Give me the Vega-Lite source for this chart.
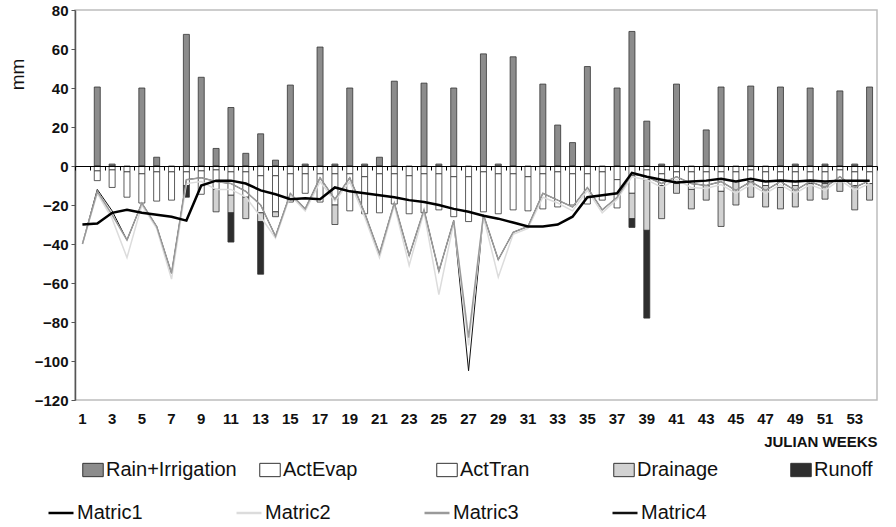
{
  "$schema": "https://vega.github.io/schema/vega-lite/v6.json",
  "width": 802,
  "height": 390,
  "autosize": {"type": "none"},
  "padding": {"left": 75, "top": 10, "right": 19, "bottom": 127},
  "background": "white",
  "config": {"view": {"stroke": "#bdbdbd", "strokeWidth": 1.5}, "font": "Liberation Sans"},
  "datasets": {
    "bars": [
      {"w":2,"s":"Rain+Irrigation","v":40.5},{"w":2,"s":"ActEvap","v":-2.5},{"w":2,"s":"ActTran","v":-5},
      {"w":3,"s":"Rain+Irrigation","v":1},{"w":3,"s":"ActEvap","v":-2},{"w":3,"s":"ActTran","v":-9},
      {"w":4,"s":"ActEvap","v":-3},{"w":4,"s":"ActTran","v":-13},
      {"w":5,"s":"Rain+Irrigation","v":40},{"w":5,"s":"ActEvap","v":-4},{"w":5,"s":"ActTran","v":-15},
      {"w":6,"s":"Rain+Irrigation","v":4.5},{"w":6,"s":"ActEvap","v":-3},{"w":6,"s":"ActTran","v":-15},
      {"w":7,"s":"ActEvap","v":-3},{"w":7,"s":"ActTran","v":-14.5},
      {"w":8,"s":"Rain+Irrigation","v":67.5},{"w":8,"s":"ActEvap","v":-3},{"w":8,"s":"ActTran","v":-7},{"w":8,"s":"Runoff","v":-6},
      {"w":9,"s":"Rain+Irrigation","v":45.5},{"w":9,"s":"ActEvap","v":-2.5},{"w":9,"s":"ActTran","v":-12},
      {"w":10,"s":"Rain+Irrigation","v":9},{"w":10,"s":"ActEvap","v":-2},{"w":10,"s":"ActTran","v":-10},{"w":10,"s":"Drainage","v":-11.5},
      {"w":11,"s":"Rain+Irrigation","v":30},{"w":11,"s":"ActEvap","v":-3},{"w":11,"s":"ActTran","v":-12},{"w":11,"s":"Drainage","v":-9},{"w":11,"s":"Runoff","v":-15},
      {"w":12,"s":"Rain+Irrigation","v":6.5},{"w":12,"s":"ActEvap","v":-3},{"w":12,"s":"ActTran","v":-13},{"w":12,"s":"Drainage","v":-11},
      {"w":13,"s":"Rain+Irrigation","v":16.5},{"w":13,"s":"ActEvap","v":-5},{"w":13,"s":"ActTran","v":-19},{"w":13,"s":"Drainage","v":-4.5},{"w":13,"s":"Runoff","v":-27},
      {"w":14,"s":"Rain+Irrigation","v":3},{"w":14,"s":"ActEvap","v":-5},{"w":14,"s":"ActTran","v":-18.5},{"w":14,"s":"Drainage","v":-2.5},
      {"w":15,"s":"Rain+Irrigation","v":41.5},{"w":15,"s":"ActEvap","v":-4},{"w":15,"s":"ActTran","v":-14.5},
      {"w":16,"s":"Rain+Irrigation","v":1},{"w":16,"s":"ActEvap","v":-4},{"w":16,"s":"ActTran","v":-10},
      {"w":17,"s":"Rain+Irrigation","v":61},{"w":17,"s":"ActEvap","v":-4},{"w":17,"s":"ActTran","v":-14.5},
      {"w":18,"s":"Rain+Irrigation","v":1},{"w":18,"s":"ActEvap","v":-4},{"w":18,"s":"ActTran","v":-16},{"w":18,"s":"Drainage","v":-10},
      {"w":19,"s":"Rain+Irrigation","v":40},{"w":19,"s":"ActEvap","v":-4},{"w":19,"s":"ActTran","v":-19},
      {"w":20,"s":"Rain+Irrigation","v":1},{"w":20,"s":"ActEvap","v":-5.5},{"w":20,"s":"ActTran","v":-19},
      {"w":21,"s":"Rain+Irrigation","v":4.5},{"w":21,"s":"ActEvap","v":-4},{"w":21,"s":"ActTran","v":-20},
      {"w":22,"s":"Rain+Irrigation","v":43.5},{"w":22,"s":"ActEvap","v":-4},{"w":22,"s":"ActTran","v":-15.5},
      {"w":23,"s":"ActEvap","v":-5},{"w":23,"s":"ActTran","v":-19.5},
      {"w":24,"s":"Rain+Irrigation","v":42.5},{"w":24,"s":"ActEvap","v":-4},{"w":24,"s":"ActTran","v":-20},
      {"w":25,"s":"Rain+Irrigation","v":1},{"w":25,"s":"ActEvap","v":-4},{"w":25,"s":"ActTran","v":-18.5},
      {"w":26,"s":"Rain+Irrigation","v":40},{"w":26,"s":"ActEvap","v":-5.5},{"w":26,"s":"ActTran","v":-20.5},
      {"w":27,"s":"ActEvap","v":-5.5},{"w":27,"s":"ActTran","v":-23},
      {"w":28,"s":"Rain+Irrigation","v":57.5},{"w":28,"s":"ActEvap","v":-3},{"w":28,"s":"ActTran","v":-20.5},
      {"w":29,"s":"Rain+Irrigation","v":1},{"w":29,"s":"ActEvap","v":-4},{"w":29,"s":"ActTran","v":-20.5},
      {"w":30,"s":"Rain+Irrigation","v":56},{"w":30,"s":"ActEvap","v":-4},{"w":30,"s":"ActTran","v":-18.5},
      {"w":31,"s":"ActEvap","v":-5.5},{"w":31,"s":"ActTran","v":-17.5},
      {"w":32,"s":"Rain+Irrigation","v":42},{"w":32,"s":"ActEvap","v":-4},{"w":32,"s":"ActTran","v":-18},
      {"w":33,"s":"Rain+Irrigation","v":21},{"w":33,"s":"ActEvap","v":-3},{"w":33,"s":"ActTran","v":-18},
      {"w":34,"s":"Rain+Irrigation","v":12},{"w":34,"s":"ActEvap","v":-4},{"w":34,"s":"ActTran","v":-16},
      {"w":35,"s":"Rain+Irrigation","v":51},{"w":35,"s":"ActEvap","v":-4},{"w":35,"s":"ActTran","v":-15.5},
      {"w":36,"s":"ActEvap","v":-3},{"w":36,"s":"ActTran","v":-14.5},
      {"w":37,"s":"Rain+Irrigation","v":40},{"w":37,"s":"ActEvap","v":-7},{"w":37,"s":"ActTran","v":-14.5},
      {"w":38,"s":"Rain+Irrigation","v":69},{"w":38,"s":"ActEvap","v":-5},{"w":38,"s":"ActTran","v":-9},{"w":38,"s":"Drainage","v":-13},{"w":38,"s":"Runoff","v":-4.5},
      {"w":39,"s":"Rain+Irrigation","v":23},{"w":39,"s":"ActEvap","v":-2},{"w":39,"s":"ActTran","v":-5},{"w":39,"s":"Drainage","v":-26},{"w":39,"s":"Runoff","v":-45},
      {"w":40,"s":"Rain+Irrigation","v":1},{"w":40,"s":"ActEvap","v":-4},{"w":40,"s":"ActTran","v":-6},{"w":40,"s":"Drainage","v":-17},
      {"w":41,"s":"Rain+Irrigation","v":42},{"w":41,"s":"ActEvap","v":-3},{"w":41,"s":"ActTran","v":-6},{"w":41,"s":"Drainage","v":-5},
      {"w":42,"s":"ActEvap","v":-3},{"w":42,"s":"ActTran","v":-9},{"w":42,"s":"Drainage","v":-10},
      {"w":43,"s":"Rain+Irrigation","v":18.5},{"w":43,"s":"ActEvap","v":-3},{"w":43,"s":"ActTran","v":-7},{"w":43,"s":"Drainage","v":-7.5},
      {"w":44,"s":"Rain+Irrigation","v":40.5},{"w":44,"s":"ActEvap","v":-3},{"w":44,"s":"ActTran","v":-10},{"w":44,"s":"Drainage","v":-18},
      {"w":45,"s":"ActEvap","v":-3},{"w":45,"s":"ActTran","v":-5},{"w":45,"s":"Drainage","v":-12},
      {"w":46,"s":"Rain+Irrigation","v":41},{"w":46,"s":"ActEvap","v":-2},{"w":46,"s":"ActTran","v":-6},{"w":46,"s":"Drainage","v":-8},
      {"w":47,"s":"ActEvap","v":-3},{"w":47,"s":"ActTran","v":-7},{"w":47,"s":"Drainage","v":-11},
      {"w":48,"s":"Rain+Irrigation","v":40.5},{"w":48,"s":"ActEvap","v":-3},{"w":48,"s":"ActTran","v":-8},{"w":48,"s":"Drainage","v":-11},
      {"w":49,"s":"Rain+Irrigation","v":1},{"w":49,"s":"ActEvap","v":-3},{"w":49,"s":"ActTran","v":-7},{"w":49,"s":"Drainage","v":-11},
      {"w":50,"s":"Rain+Irrigation","v":40},{"w":50,"s":"ActEvap","v":-3},{"w":50,"s":"ActTran","v":-6},{"w":50,"s":"Drainage","v":-8.5},
      {"w":51,"s":"Rain+Irrigation","v":1},{"w":51,"s":"ActEvap","v":-3},{"w":51,"s":"ActTran","v":-6},{"w":51,"s":"Drainage","v":-8},
      {"w":52,"s":"Rain+Irrigation","v":38.5},{"w":52,"s":"ActEvap","v":-2},{"w":52,"s":"ActTran","v":-6},{"w":52,"s":"Drainage","v":-5},
      {"w":53,"s":"Rain+Irrigation","v":1},{"w":53,"s":"ActEvap","v":-3},{"w":53,"s":"ActTran","v":-7},{"w":53,"s":"Drainage","v":-12.5},
      {"w":54,"s":"Rain+Irrigation","v":40.5},{"w":54,"s":"ActEvap","v":-3},{"w":54,"s":"ActTran","v":-6},{"w":54,"s":"Drainage","v":-8.5}
    ],
    "m1": [
      {"w":1,"v":-30},{"w":2,"v":-29.5},{"w":3,"v":-24},{"w":4,"v":-22.5},{"w":5,"v":-24},{"w":6,"v":-25},{"w":7,"v":-26},{"w":8,"v":-28},{"w":9,"v":-10},{"w":10,"v":-7.5},
      {"w":11,"v":-7.5},{"w":12,"v":-9},{"w":13,"v":-12.5},{"w":14,"v":-14.5},{"w":15,"v":-17},{"w":16,"v":-16.5},{"w":17,"v":-17},{"w":18,"v":-11},{"w":19,"v":-13},{"w":20,"v":-14},
      {"w":21,"v":-15},{"w":22,"v":-16},{"w":23,"v":-17.5},{"w":24,"v":-18.5},{"w":25,"v":-20},{"w":26,"v":-22},{"w":27,"v":-23.5},{"w":28,"v":-25.5},{"w":29,"v":-27},{"w":30,"v":-29},
      {"w":31,"v":-31},{"w":32,"v":-31},{"w":33,"v":-30},{"w":34,"v":-26},{"w":35,"v":-16},{"w":36,"v":-15},{"w":37,"v":-14},{"w":38,"v":-3.5},{"w":39,"v":-5.5},{"w":40,"v":-7},
      {"w":41,"v":-8.5},{"w":42,"v":-8},{"w":43,"v":-7.5},{"w":44,"v":-6.5},{"w":45,"v":-8},{"w":46,"v":-6.5},{"w":47,"v":-8},{"w":48,"v":-7.5},{"w":49,"v":-8},{"w":50,"v":-7.5},
      {"w":51,"v":-8},{"w":52,"v":-7.5},{"w":53,"v":-7.5},{"w":54,"v":-7.5}
    ],
    "m2": [
      {"w":1,"v":-40},{"w":2,"v":-14},{"w":3,"v":-27},{"w":4,"v":-47},{"w":5,"v":-20},{"w":6,"v":-32},{"w":7,"v":-58},{"w":8,"v":-9},{"w":9,"v":-8},{"w":10,"v":-12},
      {"w":11,"v":-12},{"w":12,"v":-16},{"w":13,"v":-26},{"w":14,"v":-37},{"w":15,"v":-15},{"w":16,"v":-23},{"w":17,"v":-8},{"w":18,"v":-18},{"w":19,"v":-8},{"w":20,"v":-26},
      {"w":21,"v":-47},{"w":22,"v":-20},{"w":23,"v":-51},{"w":24,"v":-23.5},{"w":25,"v":-66},{"w":26,"v":-29},{"w":27,"v":-92},{"w":28,"v":-26},{"w":29,"v":-57},{"w":30,"v":-35},
      {"w":31,"v":-32},{"w":32,"v":-16},{"w":33,"v":-19},{"w":34,"v":-23},{"w":35,"v":-12.5},{"w":36,"v":-24},{"w":37,"v":-17},{"w":38,"v":-5.5},{"w":39,"v":-7},{"w":40,"v":-11},
      {"w":41,"v":-7},{"w":42,"v":-11},{"w":43,"v":-11.5},{"w":44,"v":-9.5},{"w":45,"v":-14},{"w":46,"v":-9.5},{"w":47,"v":-14},{"w":48,"v":-9.5},{"w":49,"v":-14},{"w":50,"v":-9.5},
      {"w":51,"v":-12.5},{"w":52,"v":-7},{"w":53,"v":-12.5},{"w":54,"v":-9}
    ],
    "m3": [
      {"w":1,"v":-40},{"w":2,"v":-13},{"w":3,"v":-25},{"w":4,"v":-38},{"w":5,"v":-19},{"w":6,"v":-31},{"w":7,"v":-55},{"w":8,"v":-7},{"w":9,"v":-6},{"w":10,"v":-8},
      {"w":11,"v":-9},{"w":12,"v":-13},{"w":13,"v":-20},{"w":14,"v":-36},{"w":15,"v":-14},{"w":16,"v":-22},{"w":17,"v":-6},{"w":18,"v":-17},{"w":19,"v":-6},{"w":20,"v":-24},
      {"w":21,"v":-45},{"w":22,"v":-19},{"w":23,"v":-46},{"w":24,"v":-22.5},{"w":25,"v":-54},{"w":26,"v":-28},{"w":27,"v":-88},{"w":28,"v":-25},{"w":29,"v":-48},{"w":30,"v":-34},
      {"w":31,"v":-31},{"w":32,"v":-14},{"w":33,"v":-17.5},{"w":34,"v":-21},{"w":35,"v":-11},{"w":36,"v":-22.5},{"w":37,"v":-16},{"w":38,"v":-4},{"w":39,"v":-5.5},{"w":40,"v":-9},
      {"w":41,"v":-5.5},{"w":42,"v":-9},{"w":43,"v":-10},{"w":44,"v":-8},{"w":45,"v":-12.5},{"w":46,"v":-8},{"w":47,"v":-12.5},{"w":48,"v":-8},{"w":49,"v":-12.5},{"w":50,"v":-8},
      {"w":51,"v":-11},{"w":52,"v":-5.5},{"w":53,"v":-11},{"w":54,"v":-7.5}
    ],
    "m4": [
      {"w":1,"v":-40},{"w":2,"v":-12},{"w":3,"v":-23},{"w":4,"v":-38},{"w":5,"v":-19},{"w":6,"v":-31},{"w":7,"v":-55},{"w":8,"v":-7},{"w":9,"v":-6},{"w":10,"v":-8},
      {"w":11,"v":-9},{"w":12,"v":-13},{"w":13,"v":-20},{"w":14,"v":-36},{"w":15,"v":-14},{"w":16,"v":-22},{"w":17,"v":-6},{"w":18,"v":-17},{"w":19,"v":-6},{"w":20,"v":-24},
      {"w":21,"v":-45},{"w":22,"v":-19},{"w":23,"v":-46},{"w":24,"v":-22.5},{"w":25,"v":-54},{"w":26,"v":-28},{"w":27,"v":-105},{"w":28,"v":-25},{"w":29,"v":-48},{"w":30,"v":-34},
      {"w":31,"v":-31},{"w":32,"v":-14},{"w":33,"v":-17.5},{"w":34,"v":-21},{"w":35,"v":-11},{"w":36,"v":-22.5},{"w":37,"v":-16},{"w":38,"v":-4},{"w":39,"v":-5.5},{"w":40,"v":-9},
      {"w":41,"v":-5.5},{"w":42,"v":-9},{"w":43,"v":-10},{"w":44,"v":-8},{"w":45,"v":-12.5},{"w":46,"v":-8},{"w":47,"v":-12.5},{"w":48,"v":-8},{"w":49,"v":-12.5},{"w":50,"v":-8},
      {"w":51,"v":-11},{"w":52,"v":-5.5},{"w":53,"v":-11},{"w":54,"v":-7.5}
    ]
  },
  "encoding": {
    "y": {
      "field": "v", "type": "quantitative",
      "scale": {"domain": [-120, 80], "nice": false, "zero": false},
      "axis": {
        "values": [-120,-100,-80,-60,-40,-20,0,20,40,60,80],
        "grid": false, "domainColor": "#555", "domainWidth": 1.5, "tickColor": "#555", "tickSize": 4,
        "labelFont": "Liberation Sans", "labelFontWeight": "bold", "labelFontSize": 15, "labelColor": "#111", "labelPadding": 3,
        "title": "mm", "titleFont": "Liberation Sans", "titleFontWeight": "normal", "titleFontSize": 19, "titleColor": "#111",
        "titleX": -58, "titleY": 64, "titleAlign": "center", "titleBaseline": "middle", "titleAngle": -90
      }
    }
  },
  "layer": [
    {
      "data": {"name": "bars"},
      "mark": {"type": "bar", "width": 6, "stroke": "#333", "strokeWidth": 0.8},
      "encoding": {
        "x": {
          "field": "w", "type": "ordinal",
          "scale": {"paddingInner": 0, "paddingOuter": 0},
          "axis": {
            "values": [1,3,5,7,9,11,13,15,17,19,21,23,25,27,29,31,33,35,37,39,41,43,45,47,49,51,53],
            "labelAngle": 0, "ticks": false, "domain": false,
            "labelFont": "Liberation Sans", "labelFontWeight": "bold", "labelFontSize": 15, "labelColor": "#111", "labelPadding": 11,
            "title": "JULIAN WEEKS", "titleAnchor": "end",
            "titleFont": "Liberation Sans", "titleFontWeight": "bold", "titleFontSize": 15, "titleColor": "#111", "titlePadding": 8
          }
        },
        "order": {"field": "s", "sort": "ascending"},
        "fill": {
          "field": "s", "type": "nominal",
          "scale": {"domain": ["Rain+Irrigation","ActEvap","ActTran","Drainage","Runoff"], "range": ["#8c8c8c","#ffffff","#ffffff","#d2d2d2","#2e2e2e"]},
          "legend": {
            "orient": "none", "legendX": 7, "legendY": 449, "direction": "horizontal", "columns": 5, "gridAlign": "all",
            "columnPadding": 20, "title": null, "symbolType": "M-1,-0.65H1V0.65H-1Z", "symbolSize": 420,
            "symbolStrokeColor": "#333", "symbolStrokeWidth": 1, "symbolOpacity": 1,
            "labelFont": "Liberation Sans", "labelFontSize": 20, "labelColor": "#111", "labelOffset": 2, "labelLimit": 300
          }
        }
      }
    },
    {
      "data": {"name": "m4"},
      "transform": [{"calculate": "'Matric4'", "as": "s"}],
      "mark": {"type": "line", "strokeWidth": 1},
      "encoding": {
        "x": {"field": "w", "type": "ordinal", "axis": null},
        "stroke": {
          "field": "s", "type": "nominal",
          "scale": {"domain": ["Matric1","Matric2","Matric3","Matric4"], "range": ["#000000","#dcdcdc","#9a9a9a","#111111"]},
          "legend": {
            "orient": "none", "legendX": -28, "legendY": 489, "direction": "horizontal", "columns": 4, "gridAlign": "all",
            "columnPadding": 88, "title": null, "symbolType": "stroke", "symbolSize": 625, "symbolStrokeWidth": 2.5,
            "labelFont": "Liberation Sans", "labelFontSize": 20, "labelColor": "#111", "labelOffset": 2
          }
        }
      }
    },
    {
      "data": {"name": "m2"},
      "transform": [{"calculate": "'Matric2'", "as": "s"}],
      "mark": {"type": "line", "strokeWidth": 1.5},
      "encoding": {
        "x": {"field": "w", "type": "ordinal", "axis": null},
        "stroke": {
          "field": "s", "type": "nominal",
          "scale": {"domain": ["Matric1","Matric2","Matric3","Matric4"], "range": ["#000000","#dcdcdc","#9a9a9a","#111111"]},
          "legend": {
            "orient": "none", "legendX": -28, "legendY": 489, "direction": "horizontal", "columns": 4, "gridAlign": "all",
            "columnPadding": 88, "title": null, "symbolType": "stroke", "symbolSize": 625, "symbolStrokeWidth": 2.5,
            "labelFont": "Liberation Sans", "labelFontSize": 20, "labelColor": "#111", "labelOffset": 2
          }
        }
      }
    },
    {
      "data": {"name": "m3"},
      "transform": [{"calculate": "'Matric3'", "as": "s"}],
      "mark": {"type": "line", "strokeWidth": 1.5},
      "encoding": {
        "x": {"field": "w", "type": "ordinal", "axis": null},
        "stroke": {
          "field": "s", "type": "nominal",
          "scale": {"domain": ["Matric1","Matric2","Matric3","Matric4"], "range": ["#000000","#dcdcdc","#9a9a9a","#111111"]},
          "legend": {
            "orient": "none", "legendX": -28, "legendY": 489, "direction": "horizontal", "columns": 4, "gridAlign": "all",
            "columnPadding": 88, "title": null, "symbolType": "stroke", "symbolSize": 625, "symbolStrokeWidth": 2.5,
            "labelFont": "Liberation Sans", "labelFontSize": 20, "labelColor": "#111", "labelOffset": 2
          }
        }
      }
    },
    {
      "data": {"name": "m1"},
      "transform": [{"calculate": "'Matric1'", "as": "s"}],
      "mark": {"type": "line", "strokeWidth": 2.5},
      "encoding": {
        "x": {
          "field": "w", "type": "ordinal",
          "axis": {
            "orient": "bottom", "offset": -234, "labels": false, "title": null, "domain": true, "domainColor": "#000", "domainWidth": 1,
            "ticks": true, "tickBand": "extent", "tickSize": 4, "tickColor": "#000", "tickWidth": 1, "zindex": 1, "grid": false
          }
        },
        "stroke": {
          "field": "s", "type": "nominal",
          "scale": {"domain": ["Matric1","Matric2","Matric3","Matric4"], "range": ["#000000","#dcdcdc","#9a9a9a","#111111"]},
          "legend": {
            "orient": "none", "legendX": -28, "legendY": 489, "direction": "horizontal", "columns": 4, "gridAlign": "all",
            "columnPadding": 88, "title": null, "symbolType": "stroke", "symbolSize": 625, "symbolStrokeWidth": 2.5,
            "labelFont": "Liberation Sans", "labelFontSize": 20, "labelColor": "#111", "labelOffset": 2
          }
        }
      }
    }
  ],
  "resolve": {"axis": {"x": "independent"}}
}
